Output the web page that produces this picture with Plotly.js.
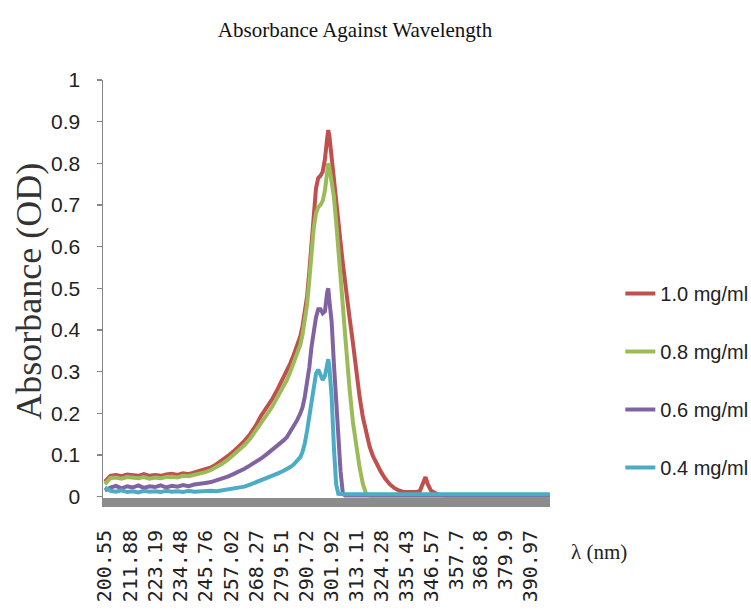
<!DOCTYPE html>
<html>
<head>
<meta charset="utf-8">
<script src="https://cdn.plot.ly/plotly-3.0.1.min.js"></script>
<style>html,body{margin:0;padding:0;background:#fff;}#chart{width:751px;height:614px;}</style>
</head>
<body>
<div id="chart"></div>
<script>
// Wavelength (nm) sample points
var wavelength = [
200.55, 203, 205.5, 208, 210.5, 213, 215.5, 218, 220.5, 223, 225.5, 228, 230.5, 233, 235.5, 238, 240.5,
243, 245.5, 248, 250.5, 253, 255.5, 258, 260.5, 263, 265.5, 268, 270.5, 273, 275.5, 278, 280.5,
282, 283.5, 285, 286.5, 288, 289, 290, 291, 292, 293, 294, 295, 296, 297, 298, 299, 300, 300.5, 301, 302, 303, 304, 305, 306, 307, 308, 309, 310,
311.5, 313, 314.5, 316, 317.5, 319, 320.5, 322, 324, 326, 328, 330, 332, 334, 336, 338, 340, 341.5, 343, 344, 345, 346.5, 348, 350,
353, 357, 361, 365, 369, 373, 377, 381, 385, 389, 393, 397, 399.6
];

var abs10 = [
0.036, 0.05, 0.052, 0.049, 0.053, 0.051, 0.05, 0.054, 0.05, 0.052, 0.05, 0.053, 0.055, 0.052, 0.056, 0.054, 0.058,
0.06, 0.065, 0.07, 0.078, 0.087, 0.097, 0.108, 0.12, 0.134, 0.15, 0.17, 0.195, 0.215, 0.235, 0.26, 0.285,
0.30, 0.32, 0.34, 0.36, 0.385, 0.41, 0.44, 0.48, 0.54, 0.61, 0.69, 0.74, 0.765, 0.77, 0.78, 0.81, 0.86, 0.88, 0.865, 0.81, 0.76, 0.71, 0.66, 0.61, 0.56, 0.51, 0.47, 0.43,
0.37, 0.30, 0.24, 0.19, 0.15, 0.12, 0.097, 0.08, 0.06, 0.043, 0.03, 0.021, 0.015, 0.012, 0.011, 0.012, 0.011, 0.014, 0.035, 0.047, 0.03, 0.014, 0.01, 0.004,
0.003, 0.003, 0.003, 0.003, 0.003, 0.003, 0.003, 0.003, 0.003, 0.003, 0.003, 0.003, 0.003
];

var abs08 = [
0.03, 0.045, 0.046, 0.043, 0.047, 0.045, 0.044, 0.047, 0.043, 0.046, 0.044, 0.047, 0.048, 0.046, 0.05, 0.049, 0.052,
0.055, 0.059, 0.064, 0.071, 0.079, 0.088, 0.099, 0.11, 0.124, 0.139, 0.157, 0.177, 0.197, 0.217, 0.24, 0.265,
0.28, 0.30, 0.32, 0.34, 0.365, 0.39, 0.42, 0.46, 0.52, 0.585, 0.645, 0.68, 0.695, 0.70, 0.71, 0.735, 0.78, 0.80, 0.79, 0.76, 0.72, 0.66, 0.60, 0.53, 0.46, 0.39, 0.32, 0.26,
0.18, 0.12, 0.07, 0.03, 0.006, 0.003, 0.003, 0.003, 0.003, 0.003, 0.003, 0.003, 0.003, 0.003, 0.003, 0.003, 0.003, 0.003, 0.003, 0.003, 0.003, 0.003, 0.003, 0.003,
0.003, 0.003, 0.003, 0.003, 0.003, 0.003, 0.003, 0.003, 0.003, 0.003, 0.003, 0.003, 0.003
];

var abs06 = [
0.015, 0.022, 0.026, 0.02, 0.025, 0.022, 0.027, 0.021, 0.025, 0.023, 0.027, 0.022, 0.026, 0.024, 0.028, 0.025, 0.029,
0.03, 0.033, 0.035, 0.039, 0.043, 0.048, 0.054, 0.06, 0.067, 0.075, 0.083, 0.092, 0.102, 0.112, 0.123, 0.135,
0.143, 0.155, 0.168, 0.183, 0.2, 0.215, 0.24, 0.27, 0.31, 0.36, 0.40, 0.43, 0.45, 0.45, 0.44, 0.445, 0.49, 0.50, 0.47, 0.42, 0.32, 0.22, 0.14, 0.06, 0.008, 0.003, 0.003, 0.003,
0.003, 0.003, 0.003, 0.003, 0.003, 0.003, 0.003, 0.003, 0.003, 0.003, 0.003, 0.003, 0.003, 0.003, 0.003, 0.003, 0.003, 0.003, 0.003, 0.003, 0.003, 0.003, 0.003, 0.003,
0.003, 0.003, 0.003, 0.003, 0.003, 0.003, 0.003, 0.003, 0.003, 0.003, 0.003, 0.003, 0.003
];

var abs04 = [
0.022, 0.014, 0.012, 0.015, 0.011, 0.013, 0.01, 0.014, 0.012, 0.013, 0.011, 0.014, 0.012, 0.013, 0.011, 0.014, 0.012,
0.013, 0.012, 0.014, 0.013, 0.015, 0.016, 0.018, 0.02, 0.024, 0.029, 0.034, 0.04, 0.045, 0.05, 0.056, 0.062,
0.066, 0.071, 0.077, 0.085, 0.095, 0.108, 0.128, 0.158, 0.195, 0.235, 0.27, 0.295, 0.305, 0.295, 0.28, 0.29, 0.32, 0.33, 0.31, 0.24, 0.12, 0.03, 0.007, 0.006, 0.006, 0.006, 0.006, 0.006,
0.006, 0.006, 0.006, 0.006, 0.006, 0.006, 0.006, 0.006, 0.006, 0.006, 0.006, 0.006, 0.006, 0.006, 0.006, 0.006, 0.006, 0.006, 0.006, 0.006, 0.006, 0.006, 0.006, 0.006,
0.006, 0.006, 0.006, 0.006, 0.006, 0.006, 0.006, 0.006, 0.006, 0.006, 0.006, 0.006, 0.006
];

// Blank / baseline series (not in legend)
var baselineWavelength = [199.7, 399.7];
var baselineAbs = [-0.014, -0.014];

var seriesNames = ["1.0 mg/ml", "0.8 mg/ml", "0.6 mg/ml", "0.4 mg/ml"];
var seriesColors = ["#C0504D", "#9BBB59", "#8064A2", "#4BACC6"];
var seriesValues = [abs10, abs08, abs06, abs04];

var tickWavelengths = [200.55, 211.88, 223.19, 234.48, 245.76, 257.02, 268.27, 279.51, 290.72, 301.92, 313.11, 324.28, 335.43, 346.57, 357.7, 368.8, 379.9, 390.97];
var tickLabels = ["200.55", "211.88", "223.19", "234.48", "245.76", "257.02", "268.27", "279.51", "290.72", "301.92", "313.11", "324.28", "335.43", "346.57", "357.7", "368.8", "379.9", "390.97"];
var yTicks = [0, 0.1, 0.2, 0.3, 0.4, 0.5, 0.6, 0.7, 0.8, 0.9, 1];
var yTickLabels = ["0", "0.1", "0.2", "0.3", "0.4", "0.5", "0.6", "0.7", "0.8", "0.9", "1"];

var traces = [{
  x: baselineWavelength, y: baselineAbs, mode: "lines", type: "scatter",
  line: {color: "#8C8C8C", width: 9}, showlegend: false, hoverinfo: "skip"
}];
for (var i = 0; i < seriesNames.length; i++) {
  traces.push({
    x: wavelength, y: seriesValues[i], name: seriesNames[i], mode: "lines", type: "scatter",
    legendgroup: "g" + i,
    line: {color: seriesColors[i], width: 4}
  });
}

var layout = {
  width: 751, height: 614,
  margin: {l: 103, r: 201, t: 80, b: 107, pad: 0, autoexpand: false},
  paper_bgcolor: "#ffffff", plot_bgcolor: "#ffffff",
  showlegend: true,
  title: {
    text: "Absorbance Against Wavelength",
    font: {family: "Liberation Serif, serif", size: 21, color: "#111"},
    xref: "container", x: 0.4727, xanchor: "center",
    yref: "container", y: 0.951, yanchor: "middle"
  },
  xaxis: {
    range: [199.7, 399.7],
    tickmode: "array", tickvals: tickWavelengths, ticktext: tickLabels,
    tickangle: -90, ticks: "", ticklabelstandoff: 18,
    tickfont: {family: "DejaVu Sans Mono, monospace", size: 20, color: "#222"},
    showgrid: false, zeroline: false, showline: false, fixedrange: true, automargin: false
  },
  yaxis: {
    range: [-0.0248, 1.0],
    tickmode: "array", tickvals: yTicks, ticktext: yTickLabels,
    ticks: "outside", ticklen: 5, tickwidth: 1.5, tickcolor: "#868686",
    ticklabelstandoff: 12,
    tickfont: {family: "Liberation Sans, Arial, sans-serif", size: 21, color: "#222"},
    showline: true, linecolor: "#868686", linewidth: 1.5,
    showgrid: false, zeroline: false, fixedrange: true, automargin: false
  },
  legend: {
    xref: "container", yref: "container",
    x: 0.826, xanchor: "left", y: 0.5537, yanchor: "top",
    font: {family: "Liberation Sans, Arial, sans-serif", size: 20, color: "#222"},
    bgcolor: "rgba(0,0,0,0)", borderwidth: 0,
    tracegroupgap: 29, traceorder: "grouped"
  },
  annotations: [
    {
      text: "Absorbance (OD)", textangle: -90, showarrow: false,
      xref: "paper", yref: "paper", x: -0.1655, y: 0.5043, xanchor: "center", yanchor: "middle",
      font: {family: "Liberation Serif, serif", size: 36, color: "#333"}
    },
    {
      text: "λ (nm)", showarrow: false,
      xref: "paper", yref: "paper", x: 1.1096, y: -0.1056, xanchor: "center", yanchor: "middle",
      font: {family: "Liberation Serif, serif", size: 21, color: "#222"}
    }
  ]
};

Plotly.newPlot("chart", traces, layout, {displayModeBar: false, staticPlot: true});
</script>
</body>
</html>
